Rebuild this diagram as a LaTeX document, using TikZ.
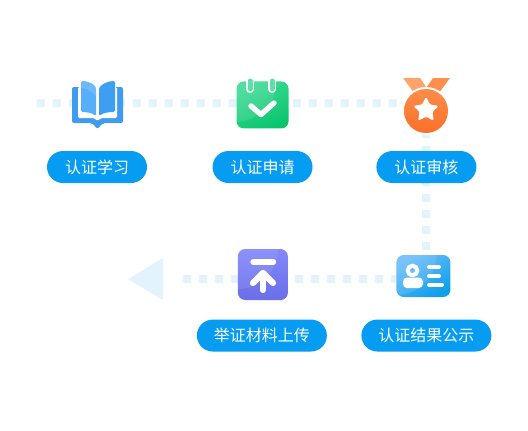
\documentclass[tikz,border=0pt]{standalone}
\usepackage{fontspec}
\newfontfamily\cjk{Noto Sans CJK SC}
\usetikzlibrary{shapes.geometric,positioning,backgrounds}
\definecolor{pillblue}{HTML}{069CF1}
\definecolor{dotblue}{HTML}{E3F3FD}
\definecolor{applytop}{HTML}{3FDB97}
\definecolor{applybot}{HTML}{0AC56C}
\definecolor{tabgreen}{HTML}{5BE0A8}
\definecolor{resultlft}{HTML}{6CBCFB}
\definecolor{resultrgt}{HTML}{0FA0EA}
\definecolor{uploadtop}{HTML}{8488FA}
\definecolor{uploadbot}{HTML}{6A6EE8}
\definecolor{bookcover}{HTML}{3F9CEF}
\definecolor{bookleft}{HTML}{57AEFB}
\definecolor{bookright}{HTML}{3E9EF1}
\definecolor{ribbonlft}{HTML}{FFA56B}
\definecolor{ribbonrgt}{HTML}{FF8F4D}
\definecolor{medaltop}{HTML}{FF8C4A}
\definecolor{medalbot}{HTML}{F9702A}
\tikzset{
  pillbox/.style  = {rectangle, rounded corners=12pt, fill=pillblue,
                     text=white, inner sep=0pt, minimum width=#1,
                     minimum height=24pt, font=\cjk\fontsize{12}{14}\selectfont,
                     text centered},
  pillbox/.default= 75pt,
  iconbox/.style  = {rectangle, inner sep=0pt, rounded corners=5.5pt},
  dotline/.style  = {dotblue, line width=6pt, dash pattern=on 6pt off 6pt},
  whiteline/.style= {white, line cap=round, line join=round},
  glow/.style     = {path picture={\fill[white,opacity=#1]
                     (path picture bounding box.north west) circle[radius=30pt];}},
}

\begin{document}
\begin{tikzpicture}[x=0.75pt,y=-0.75pt]
  \useasboundingbox (0,0) rectangle (528,430);

  %% ---- Labels, first row ----
  \node[pillbox] (studylbl) at (97,167) {认证学习};
  \node[pillbox, right=48.75pt of studylbl] (applylbl) {认证申请};
  \node[pillbox, right=47.5pt of applylbl]  (auditlbl) {认证审核};

  %% ---- Labels, second row ----
  \node[pillbox=97.5pt, below=102pt of auditlbl] (resultlbl) {认证结果公示};
  \node[pillbox=97.5pt, left=25.5pt of resultlbl] (uploadlbl) {举证材料上传};

  %% ---- Icon nodes ----
  \node[iconbox, minimum width=38.25pt, minimum height=36pt,
        above=16.5pt of studylbl] (study) {};
  \node[iconbox, minimum width=39pt, minimum height=35.25pt,
        above=16.5pt of applylbl, top color=applytop, bottom color=applybot,
        shading angle=25, glow=.10] (apply) {};
  \node[iconbox, minimum width=35.25pt, minimum height=41.25pt,
        above=13.5pt of auditlbl] (audit) {};
  \node[iconbox, minimum width=40.5pt, minimum height=31.5pt,
        above=16.5pt of resultlbl, xshift=-2.25pt,
        top color=resultlft, bottom color=resultrgt, shading angle=30,
        glow=.10] (result) {};
  \node[iconbox, minimum width=37.5pt, minimum height=38.25pt,
        above=14.25pt of uploadlbl, xshift=0.75pt,
        top color=uploadtop, bottom color=uploadbot,
        glow=.08] (upload) {};

  %% ---- Book ----
  \fill[rounded corners=1.5pt, bookcover]
        (72,87) -- (123,87) -- (123,123) -- (103,123) -- (97.5,129)
        -- (92,123) -- (72,123) -- cycle;
  \fill[white, rounded corners=1pt] (78,87) -- (117,87) -- (117,118)
        -- (101,118) -- (97.5,121) -- (94,118) -- (78,118) -- cycle;
  \fill[bookleft, rounded corners=1pt] (81,81) .. controls (88,81) and (94,84) .. (96,88)
        -- (96,116) .. controls (92,113) and (87,112) .. (81,112) -- cycle;
  \fill[bookright, rounded corners=1pt] (115,81) .. controls (108,81) and (102,84) .. (99,88)
        -- (99,116) .. controls (103,113) and (108,112) .. (115,112) -- cycle;
  \fill[white,opacity=.14] (81,81) .. controls (88,81) and (94,84) .. (96,88)
        -- (96,96) .. controls (90,90) and (86,88) .. (81,88) -- cycle;

  %% ---- Calendar marks ----
  \foreach \tabx in {250,272}
    \draw[white, line width=6pt, line cap=round] (\tabx,81) -- (\tabx,89);
  \foreach \tabx in {250,272}
    \draw[tabgreen, line width=3.75pt, line cap=round] (\tabx,81) -- (\tabx,89);
  \draw[whiteline, line width=4pt] (251,106) -- (261,114.5) -- (274,103);

  %% ---- Medal ----
  \fill[ribbonlft] (403,78) -- (420,78) -- (429,91) -- (417,97) -- cycle;
  \fill[ribbonrgt] (450,78) -- (433,78) -- (424,91) -- (436,97) -- cycle;
  \fill[white] (426,111) circle[radius=24];
  \shade[top color=medaltop, bottom color=medalbot] (426,111) circle[radius=22];
  \node[star, star points=5, star point ratio=2, fill=white, inner sep=0pt,
        minimum size=20pt, rounded corners=1.2pt] (medalstar) at (426,110) {};

  %% ---- Upload marks ----
  \draw[whiteline, line width=4pt] (253,262) -- (273.5,262);
  \draw[whiteline, line width=4.6pt] (263,290) -- (263,273);
  \draw[whiteline, line width=4.6pt] (253,283) -- (263,273) -- (273,283);

  %% ---- Card marks ----
  \draw[white, line width=3pt, fill=resultlft] (412.5,270.5) circle[radius=4.8];
  \fill[white, rounded corners=3pt] (403,277.5) rectangle (423,288);
  \draw[whiteline, line width=3pt] (429,267) -- (439,267);
  \draw[whiteline, line width=3pt] (429,276) -- (439,276);
  \draw[whiteline, line width=3pt] (429,284.5) -- (442,284.5);

  %% ---- Dotted path ----
  \coordinate (dotstart) at (37,103);
  \coordinate (dotend)   at (183,279);
  \begin{scope}[on background layer]
    \draw[dotline] (dotstart) -- (dotstart -| audit.center);
    \draw[dotline, dash phase=2.25pt] (audit.south -| auditlbl) -- (result.north -| auditlbl);
    \draw[dotline, dash phase=2.25pt] (result.west |- dotend) -- (dotend);
  \end{scope}

  %% ---- End of path ----
  \fill[dotblue] (128,279) -- (163,258) -- (163,300) -- cycle;

\end{tikzpicture}
\end{document}
